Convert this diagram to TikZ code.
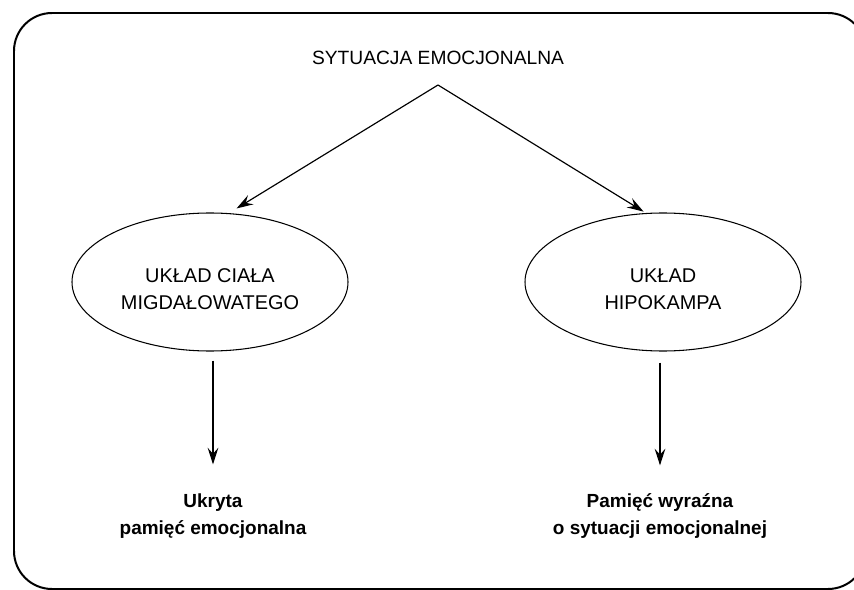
\documentclass[tikz,border=0pt]{standalone}
\usepackage{fontspec}
\setmainfont{Liberation Sans}
\usepackage{tikz}
\usetikzlibrary{shapes,arrows.meta,positioning}
\tikzstyle{heading} = [text centered, inner sep=0pt, font=\fontsize{16.4}{20}\selectfont]
\tikzstyle{uklad} = [draw, ellipse, line width=0.9pt, align=center, minimum width=8.28cm, minimum height=4.14cm, inner sep=0pt, text height=1.65cm, font=\fontsize{17}{23}\selectfont]
\tikzstyle{pamiec} = [align=center, inner sep=0pt, font=\bfseries\fontsize{16.2}{23}\selectfont]
\tikzstyle{arrow} = [draw, line width=1pt, -{Stealth[length=0.5cm,width=0.32cm,inset=0.18cm]}]
\tikzstyle{frame} = [draw, line width=1.7pt, rounded corners=1.14cm]
\newcommand{\uklad}[2]{node (u#1) [uklad] {#2}}
\newcommand{\pamiec}[2]{node (m#1) [pamiec] {#2}}

\begin{document}
\begin{tikzpicture}
\useasboundingbox (0,0) rectangle (25.62,-17.7);
\clip (0,0) rectangle (25.62,-17.7);
\path [frame] (0.42,-0.39) rectangle (25.98,-17.67);

\path (13.14,-1.74) node (s1) [heading] {SYTUACJA EMOCJONALNA};
\path (s1)+(0,-0.81) coordinate (a1);

\path (s1)+(-6.84,-6.72) \uklad{1}{UKŁAD CIAŁA\\MIGDAŁOWATEGO};
\path (s1)+(6.75,-6.72) \uklad{2}{UKŁAD\\HIPOKAMPA};
\path [arrow,shorten >=0.23cm] (a1) -- ([xshift=0.6cm]u1.north);
\path [arrow,shorten >=0.05cm] (a1) -- ([xshift=-0.54cm]u2.north);

\path (u1)+(0.09,-7.02) \pamiec{1}{Ukryta\\pamięć emocjonalna};
\path (u2)+(-0.09,-7.02) \pamiec{2}{Pamięć wyraźna\\o sytuacji emocjonalnej};
\path [arrow,shorten <=0.27cm,shorten >=0.87cm] (u1.south -| m1.north) -- (m1.north);
\path [arrow,shorten <=0.33cm,shorten >=0.84cm] (u2.south -| m2.north) -- (m2.north);
\end{tikzpicture}
\end{document}
